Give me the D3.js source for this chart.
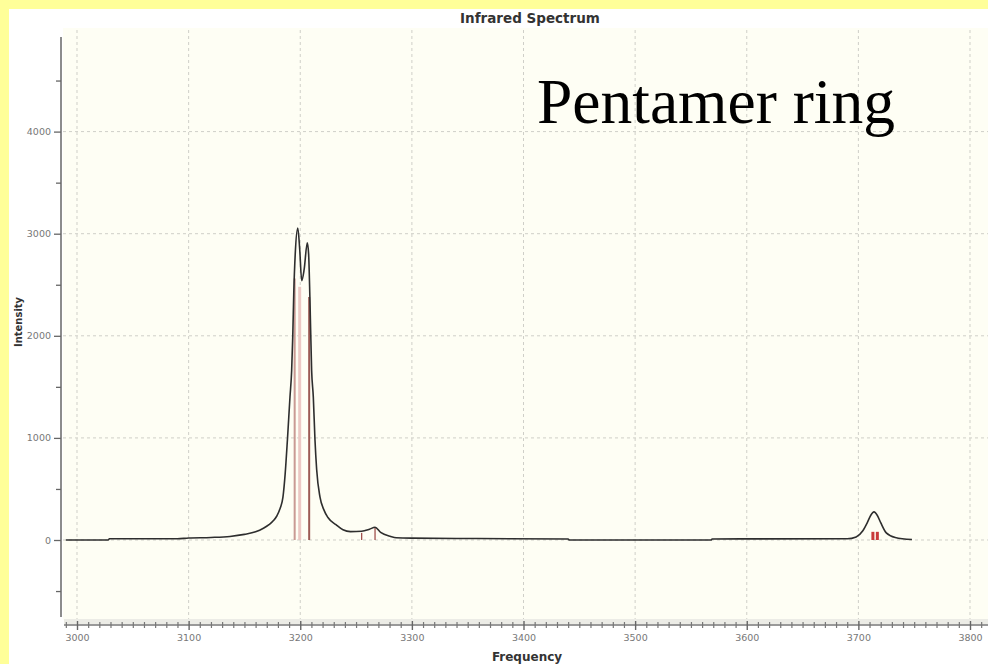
<!DOCTYPE html>
<html>
<head>
<meta charset="utf-8">
<script src="https://cdn.jsdelivr.net/npm/d3@7/dist/d3.min.js"></script>
<style>
  html, body { margin: 0; padding: 0; background: #ffff99; }
  svg { display: block; }
</style>
</head>
<body>
<svg id="chart" width="988" height="664"></svg>
<script>
// Computed IR spectrum (frequency in cm^-1, intensity)
const specFreq = [2990, 3028, 3029, 3090, 3100, 3120, 3137, 3150, 3160, 3167, 3172, 3176, 3179, 3182, 3184.5, 3186.5, 3188.5, 3190.8, 3192.3, 3193.3, 3194.2, 3195.5, 3197.8, 3199.5, 3201.3, 3203.5, 3206.3, 3207.5, 3208.7, 3210.2, 3211.7, 3213.2, 3214.7, 3217.7, 3221, 3224.8, 3232, 3238.3, 3245, 3255, 3262, 3267, 3272, 3281, 3286, 3300, 3340, 3440, 3441, 3568, 3569, 3690, 3698, 3704, 3708, 3711, 3714, 3717, 3720, 3725, 3733, 3748];
const specInt  = [0, 0, 12, 12, 20, 25, 35, 55, 80, 115, 150, 190, 235, 310, 420, 650, 980, 1400, 1660, 2000, 2420, 2800, 3055, 2850, 2540, 2650, 2910, 2800, 2350, 1660, 1400, 980, 690, 420, 300, 220, 150, 100, 82, 85, 105, 125, 75, 35, 22, 18, 15, 10, 0, 0, 10, 12, 30, 90, 170, 240, 275, 240, 170, 70, 25, 5];

// Individual vibrational modes (stick spectrum)
const stickFreq = [3195, 3199.5, 3208, 3255, 3267, 3713, 3717];
const stickInt  = [2560, 2480, 2380, 70, 118, 80, 80];

// Axis ticks
const xMajorTicks = [3000, 3100, 3200, 3300, 3400, 3500, 3600, 3700, 3800];
const xTickLabels = ["3000", "3100", "3200", "3300", "3400", "3500", "3600", "3700", "3800"];
const yMajorTicks = [0, 1000, 2000, 3000, 4000];
const yTickLabels = ["0", "1000", "2000", "3000", "4000"];
const yMinorTicks = [-500, 500, 1500, 2500, 3500, 4500];

const chartTitle = "Infrared Spectrum";
const xTitle = "Frequency";
const yTitle = "Intensity";
const annotation = "Pentamer ring";

const svg = d3.select("#chart");
const W = 988, H = 664;

// page frame: white panel over a yellow slide background
svg.append("rect").attr("x", 0).attr("y", 0).attr("width", W).attr("height", H).attr("fill", "#ffff99");
svg.append("rect").attr("x", 9).attr("y", 9).attr("width", W - 9).attr("height", H - 9).attr("fill", "#ffffff");

const x = d3.scaleLinear().domain([3000, 3800]).range([77, 970]);
const y = d3.scaleLinear().domain([0, 4000]).range([540, 131.6]);

// plot background
svg.append("rect").attr("x", 63).attr("y", 28).attr("width", W - 63).attr("height", 592)
  .attr("fill", "#fefef4");

// grid
const grid = svg.append("g").attr("stroke", "#cfcfc8").attr("stroke-width", 1).attr("stroke-dasharray", "3,3");
grid.selectAll("line.v").data(xMajorTicks).join("line")
  .attr("x1", d => x(d)).attr("x2", d => x(d)).attr("y1", 30).attr("y2", 619);
grid.selectAll("line.h").data(yMajorTicks).join("line")
  .attr("x1", 63).attr("x2", W).attr("y1", d => y(d)).attr("y2", d => y(d));

// stick spectrum
const stickColors = ["#c99a94", "#ecc8c4", "#9c5a54", "#a0504c", "#a0504c", "#c83a3a", "#c83a3a"];
const stickWidths = [2, 3, 2, 1.3, 1.3, 3, 3];
svg.append("g").selectAll("line").data(stickFreq).join("line")
  .attr("x1", d => x(d)).attr("x2", d => x(d))
  .attr("y1", y(0)).attr("y2", (d, i) => y(stickInt[i]))
  .attr("stroke", (d, i) => stickColors[i])
  .attr("stroke-width", (d, i) => stickWidths[i]);

// spectrum curve
const pts = specFreq.map((f, i) => [f, specInt[i]]);
svg.append("path").datum(pts)
  .attr("fill", "none").attr("stroke", "#2e2e2e").attr("stroke-width", 1.6)
  .attr("stroke-linejoin", "round")
  .attr("d", d3.line().x(d => x(d[0])).y(d => y(d[1])).curve(d3.curveMonotoneX));

// y axis
const yAxisG = svg.append("g").attr("transform", "translate(61,0)");
yAxisG.append("line").attr("x1", 0).attr("x2", 0).attr("y1", 37).attr("y2", 617)
  .attr("stroke", "#666").attr("stroke-width", 1.5);
const yMajor = yAxisG.append("g")
  .call(d3.axisLeft(y).tickValues(yMajorTicks).tickSize(7).tickPadding(3)
    .tickFormat((d, i) => yTickLabels[i]));
yMajor.select(".domain").remove();
yMajor.selectAll("line").attr("stroke", "#666").attr("stroke-width", 1.3);
yMajor.selectAll("text").attr("fill", "#777").style("font-family", "DejaVu Sans").style("font-size", "9.5px");
const yMinor = yAxisG.append("g")
  .call(d3.axisLeft(y).tickValues(yMinorTicks).tickSize(5).tickFormat(""));
yMinor.select(".domain").remove();
yMinor.selectAll("line").attr("stroke", "#666").attr("stroke-width", 1.3);

// x axis
const xAxisY = 625;
svg.append("rect").attr("x", 64).attr("y", 619).attr("width", W - 64).attr("height", 5).attr("fill", "#ecece6");
svg.append("line").attr("x1", 64).attr("x2", W).attr("y1", xAxisY).attr("y2", xAxisY)
  .attr("stroke", "#777").attr("stroke-width", 1.3);
const xMinorTicks = d3.range(2990, 3820, 10).filter(v => v % 100 !== 0);
const xMinor = svg.append("g").attr("transform", `translate(0,${xAxisY + 3})`)
  .call(d3.axisBottom(x).tickValues(xMinorTicks).tickSizeInner(-6).tickSizeOuter(0).tickFormat(""));
xMinor.select(".domain").remove();
xMinor.selectAll("line").attr("stroke", "#777").attr("stroke-width", 1.2);
const xMajor = svg.append("g").attr("transform", `translate(0,${xAxisY - 4})`)
  .call(d3.axisBottom(x).tickValues(xMajorTicks).tickSize(9).tickPadding(4)
    .tickFormat((d, i) => xTickLabels[i]));
xMajor.select(".domain").remove();
xMajor.selectAll("line").attr("stroke", "#666").attr("stroke-width", 1.4);
xMajor.selectAll("text").attr("fill", "#777").style("font-family", "DejaVu Sans").style("font-size", "9.5px");

// titles
svg.append("text").attr("x", 530).attr("y", 23).attr("text-anchor", "middle")
  .style("font-family", "DejaVu Sans").style("font-weight", "bold").style("font-size", "13.5px")
  .attr("fill", "#333").text(chartTitle);
svg.append("text").attr("x", 527).attr("y", 661).attr("text-anchor", "middle")
  .style("font-family", "DejaVu Sans").style("font-weight", "bold").style("font-size", "12px")
  .attr("fill", "#333").text(xTitle);
svg.append("text").attr("transform", "translate(22,322) rotate(-90)").attr("text-anchor", "middle")
  .style("font-family", "DejaVu Sans").style("font-weight", "bold").style("font-size", "10px")
  .attr("fill", "#333").text(yTitle);

// annotation
svg.append("text").attr("x", 537).attr("y", 123)
  .style("font-family", "Liberation Serif").style("font-size", "63.5px")
  .attr("fill", "#000").text(annotation);
</script>
</body>
</html>
